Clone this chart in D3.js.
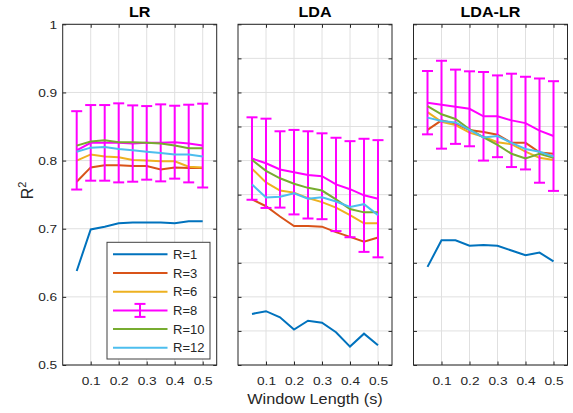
<!DOCTYPE html>
<html>
<head>
<meta charset="UTF-8">
<title>R2 vs window length</title>
<script src="https://d3js.org/d3.v7.min.js"></script>
<style>
    body { margin: 0; background: #fff; font-family: "Liberation Sans", Arial, sans-serif; }
    .tick text { font-size: 11.8px; fill: #262626; font-family: "Liberation Sans", Arial, sans-serif; }
    .tick line { stroke: #262626; }
</style>
</head>
<body>
<div id="chart"></div>
<script>
const windowLen = [0.05, 0.1, 0.15, 0.2, 0.25, 0.3, 0.35, 0.4, 0.45, 0.5];
const xTicks = [0.1, 0.2, 0.3, 0.4, 0.5];
const seriesNames = ["R=1", "R=3", "R=6", "R=8", "R=10", "R=12"];
const seriesColors = ["#0072BD", "#D95319", "#EDB120", "#FF00FF", "#77AC30", "#4DBEEE"];

// LR
const lrR1  = [0.638, 0.699, 0.703, 0.708, 0.709, 0.709, 0.709, 0.708, 0.711, 0.711];
const lrR3  = [0.769, 0.790, 0.793, 0.793, 0.792, 0.792, 0.787, 0.790, 0.789, 0.789];
const lrR6  = [0.800, 0.809, 0.806, 0.805, 0.801, 0.800, 0.799, 0.799, 0.791, 0.790];
const lrR8  = [0.815, 0.826, 0.826, 0.826, 0.825, 0.826, 0.826, 0.827, 0.825, 0.822];
const lrR8err = [0.0575, 0.0555, 0.0555, 0.058, 0.056, 0.054, 0.0565, 0.0535, 0.057, 0.0615];
const lrR10 = [0.822, 0.828, 0.830, 0.827, 0.827, 0.826, 0.825, 0.822, 0.818, 0.818];
const lrR12 = [0.813, 0.819, 0.820, 0.817, 0.815, 0.813, 0.811, 0.809, 0.809, 0.806];

// LDA
const ldaR1  = [0.575, 0.579, 0.570, 0.552, 0.565, 0.562, 0.548, 0.527, 0.546, 0.529];
const ldaR3  = [0.743, 0.733, 0.718, 0.704, 0.704, 0.703, 0.695, 0.688, 0.681, 0.687];
const ldaR6  = [0.788, 0.768, 0.756, 0.753, 0.745, 0.739, 0.731, 0.720, 0.708, 0.708];
const ldaR8  = [0.803, 0.796, 0.787, 0.783, 0.779, 0.777, 0.765, 0.758, 0.749, 0.744];
const ldaR8err = [0.0605, 0.0655, 0.056, 0.062, 0.064, 0.063, 0.0685, 0.0705, 0.083, 0.086];
const ldaR10 = [0.801, 0.785, 0.774, 0.766, 0.760, 0.756, 0.743, 0.729, 0.724, 0.724];
const ldaR12 = [0.765, 0.746, 0.747, 0.752, 0.744, 0.746, 0.740, 0.732, 0.736, 0.720];

// LDA-LR
const ldalrR1  = [0.644, 0.683, 0.683, 0.675, 0.676, 0.675, 0.668, 0.661, 0.665, 0.652];
const ldalrR3  = [0.845, 0.859, 0.854, 0.845, 0.842, 0.838, 0.826, 0.826, 0.812, 0.810];
const ldalrR6  = [0.871, 0.857, 0.852, 0.841, 0.835, 0.827, 0.824, 0.813, 0.804, 0.801];
const ldalrR8  = [0.885, 0.882, 0.879, 0.876, 0.865, 0.865, 0.859, 0.855, 0.844, 0.836];
const ldalrR8err = [0.0465, 0.0645, 0.0545, 0.055, 0.065, 0.060, 0.0685, 0.068, 0.0765, 0.0805];
const ldalrR10 = [0.880, 0.868, 0.861, 0.846, 0.834, 0.823, 0.810, 0.803, 0.810, 0.804];
const ldalrR12 = [0.863, 0.858, 0.856, 0.845, 0.834, 0.836, 0.826, 0.817, 0.813, 0.806];

const yTicksLabeled = [0.5, 0.6, 0.7, 0.8, 0.9, 1];
const yTicksFine = [0.5, 0.55, 0.6, 0.65, 0.7, 0.75, 0.8, 0.85, 0.9, 0.95, 1];

const width = 573, height = 413;
const axTop = 24.3, axBottom = 365, pw = 154;
const ink = "#262626";
const font = "'Liberation Sans', Arial, sans-serif";

const panels = [
    { title: "LR", left: 62.7, yTicks: yTicksLabeled, labels: true,
      data: [lrR1, lrR3, lrR6, lrR8, lrR10, lrR12], err: lrR8err },
    { title: "LDA", left: 238, yTicks: yTicksFine, labels: false,
      data: [ldaR1, ldaR3, ldaR6, ldaR8, ldaR10, ldaR12], err: ldaR8err },
    { title: "LDA-LR", left: 413.5, yTicks: yTicksFine, labels: false,
      data: [ldalrR1, ldalrR3, ldalrR6, ldalrR8, ldalrR10, ldalrR12], err: ldalrR8err }
];

// the reference text is a bit wider than Arial, so widen glyphs a little
function widen(sel, k) {
    sel.each(function () {
        const len = this.getComputedTextLength();
        if (len > 0) d3.select(this).attr("textLength", len * k).attr("lengthAdjust", "spacingAndGlyphs");
    });
}

const svg = d3.select("#chart").append("svg")
    .attr("width", width).attr("height", height);

const y = d3.scaleLinear().domain([0.5, 1]).range([axBottom, axTop]);
const tick = 3.5;

panels.forEach(p => {
    const x = d3.scaleLinear().domain([0, 0.55]).range([p.left, p.left + pw]);
    const g = svg.append("g");

    // grid
    g.selectAll(".gx").data(xTicks).join("line")
        .attr("x1", d => x(d)).attr("x2", d => x(d))
        .attr("y1", axTop).attr("y2", axBottom)
        .attr("stroke", "#e0e0e0").attr("stroke-width", 1);
    g.selectAll(".gy").data(p.yTicks).join("line")
        .attr("x1", p.left).attr("x2", p.left + pw)
        .attr("y1", d => y(d)).attr("y2", d => y(d))
        .attr("stroke", "#e0e0e0").attr("stroke-width", 1);

    // axes, ticks pointing inward
    g.append("g").attr("transform", `translate(0,${axBottom})`)
        .call(d3.axisBottom(x).tickValues(xTicks).tickSize(-tick).tickSizeOuter(0)
            .tickPadding(11.5).tickFormat(d3.format(".1f")));
    g.append("g").attr("transform", `translate(0,${axTop})`)
        .call(d3.axisTop(x).tickValues(xTicks).tickSize(-tick).tickSizeOuter(0).tickFormat(""));
    g.append("g").attr("transform", `translate(${p.left},0)`)
        .call(d3.axisLeft(y).tickValues(p.yTicks).tickSize(-tick).tickSizeOuter(0).tickPadding(5.5)
            .tickFormat(p.labels ? (d => d === 1 ? "1" : d.toFixed(1)) : ""));
    g.append("g").attr("transform", `translate(${p.left + pw},0)`)
        .call(d3.axisRight(y).tickValues(p.yTicks).tickSize(-tick).tickSizeOuter(0).tickFormat(""));
    g.selectAll(".domain").remove();
    widen(g.selectAll(".tick text"), 1.16);

    g.append("rect").attr("x", p.left).attr("y", axTop)
        .attr("width", pw).attr("height", axBottom - axTop)
        .attr("fill", "none").attr("stroke", ink).attr("stroke-width", 1);

    const line = d3.line().x((d, i) => x(windowLen[i])).y(d => y(d));

    p.data.forEach((vals, k) => {
        const color = seriesColors[k];
        if (k === 3) {
            const eb = g.append("g").attr("stroke", color).attr("stroke-width", 2);
            vals.forEach((m, i) => {
                const cx = x(windowLen[i]);
                const lo = y(m - p.err[i]), hi = y(m + p.err[i]);
                eb.append("line").attr("x1", cx).attr("x2", cx).attr("y1", lo).attr("y2", hi);
                eb.append("line").attr("x1", cx - 5.5).attr("x2", cx + 5.5).attr("y1", lo).attr("y2", lo);
                eb.append("line").attr("x1", cx - 5.5).attr("x2", cx + 5.5).attr("y1", hi).attr("y2", hi);
            });
        }
        g.append("path").datum(vals)
            .attr("d", line).attr("fill", "none")
            .attr("stroke", color).attr("stroke-width", 2);
    });

    g.append("text").attr("x", p.left + pw / 2).attr("y", 17.3)
        .attr("text-anchor", "middle").attr("font-family", font)
        .attr("font-size", 14).attr("font-weight", "bold").attr("fill", "#000")
        .text(p.title)
        .call(widen, 1.15);
});

// y label
const yl = svg.append("text")
    .attr("transform", `translate(32.5,190.5) rotate(-90)`)
    .attr("text-anchor", "middle").attr("font-family", font)
    .attr("font-size", 16).attr("fill", ink);
yl.append("tspan").text("R");
yl.append("tspan").attr("font-size", 11).attr("dy", -7).text("2");

// x label
svg.append("text").attr("x", 238 + pw / 2).attr("y", 404.3)
    .attr("text-anchor", "middle").attr("font-family", font)
    .attr("font-size", 14).attr("fill", ink)
    .text("Window Length (s)")
    .call(widen, 1.16);

// legend
const lg = svg.append("g").attr("transform", "translate(107,242.3)");
lg.append("rect").attr("width", 103).attr("height", 116.7)
    .attr("fill", "#fff").attr("stroke", "#404040").attr("stroke-width", 1);
seriesNames.forEach((name, k) => {
    const ly = 12 + k * 18.7;
    const c = seriesColors[k];
    lg.append("line").attr("x1", 6).attr("x2", 60.5).attr("y1", ly).attr("y2", ly)
        .attr("stroke", c).attr("stroke-width", 2);
    if (k === 3) {
        lg.append("line").attr("x1", 33).attr("x2", 33).attr("y1", ly - 6.5).attr("y2", ly + 6.5)
            .attr("stroke", c).attr("stroke-width", 2);
        [ly - 6.5, ly + 6.5].forEach(yy => lg.append("line")
            .attr("x1", 27.5).attr("x2", 38.5).attr("y1", yy).attr("y2", yy)
            .attr("stroke", c).attr("stroke-width", 2));
    }
    lg.append("text").attr("x", 66).attr("y", ly + 4.6)
        .attr("font-family", font).attr("font-size", 13).attr("fill", ink)
        .text(name);
});
</script>
</body>
</html>
